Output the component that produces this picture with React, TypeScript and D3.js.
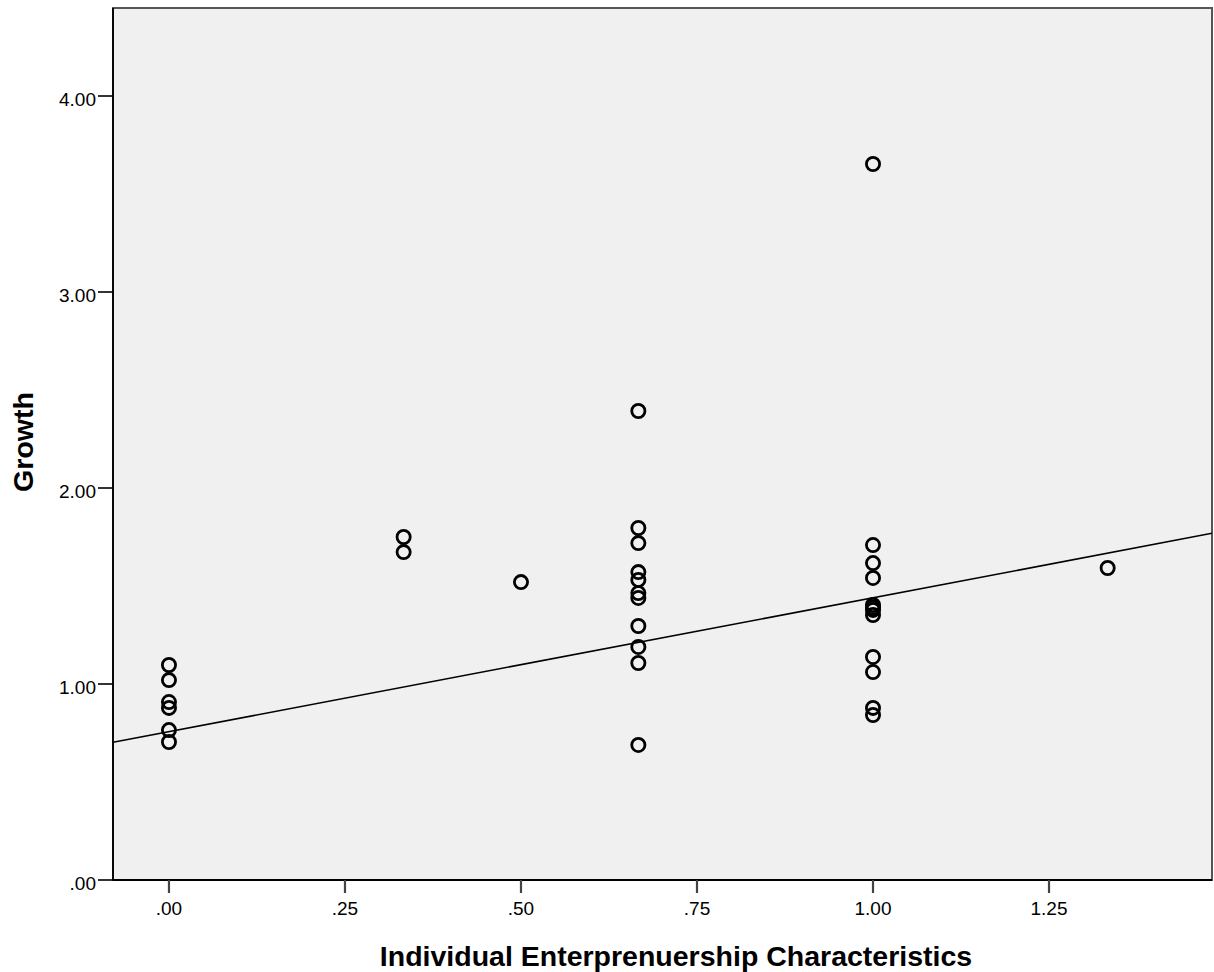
import React from "react";
import * as d3 from "d3";

const xTicks = [0, 0.25, 0.5, 0.75, 1.0, 1.25];
const xTickLabels = [".00", ".25", ".50", ".75", "1.00", "1.25"];
const yTicks = [0, 1, 2, 3, 4];
const yTickLabels = [".00", "1.00", "2.00", "3.00", "4.00"];

const xValues = [
  0, 0, 0, 0, 0, 0,
  0.3333, 0.3333,
  0.5,
  0.6667, 0.6667, 0.6667, 0.6667, 0.6667, 0.6667, 0.6667, 0.6667, 0.6667, 0.6667, 0.6667,
  1, 1, 1, 1, 1, 1, 1, 1, 1, 1, 1, 1,
  1.3333,
];
const yValues = [
  1.097, 1.02, 0.908, 0.878, 0.765, 0.704,
  1.75, 1.673,
  1.52,
  2.393, 1.796, 1.719, 1.571, 1.531, 1.464, 1.439, 1.296, 1.189, 1.107, 0.689,
  3.653, 1.709, 1.617, 1.541, 1.403, 1.39, 1.378, 1.352, 1.138, 1.061, 0.878, 0.842,
  1.592,
];

// Fit line shown in the reference (total-sample fit line)
const fitIntercept = 0.757;
const fitSlope = 0.683;

const W = 1214, H = 972;
const left = 113, right = 1212, top = 8, bottom = 880;

export default function App() {
  const x = d3.scaleLinear().domain([-0.0795, 1.4815]).range([left, right]);
  const y = d3.scaleLinear().domain([0, 4.449]).range([bottom, top]);

  const [d0, d1] = x.domain();
  const line = d3.line<number>().x((d) => x(d)).y((d) => y(fitIntercept + fitSlope * d));

  const font = "'Liberation Sans', Arial, sans-serif";

  return (
    <svg width={W} height={H} style={{ position: "absolute", left: 0, top: 0, background: "#fff" }}>
      <defs>
        <clipPath id="plotclip">
          <rect x={left} y={top} width={right - left} height={bottom - top} />
        </clipPath>
      </defs>
      <rect x={left} y={top} width={right - left} height={bottom - top} fill="#f0f0f0" stroke="#555" strokeWidth={2} />
      <path d={line([d0, d1]) ?? ""} stroke="#000" strokeWidth={1.6} fill="none" clipPath="url(#plotclip)" />
      {xValues.map((xv, i) => (
        <circle key={i} cx={x(xv)} cy={y(yValues[i])} r={6.6} fill="none" stroke="#000" strokeWidth={2.8} />
      ))}
      <line x1={left} x2={left} y1={top} y2={bottom} stroke="#000" strokeWidth={1.8} />
      <line x1={left} x2={right} y1={bottom} y2={bottom} stroke="#000" strokeWidth={1.8} />
      {yTicks.map((t, i) => (
        <g key={"y" + i}>
          <line x1={left - 15} x2={left} y1={y(t)} y2={y(t)} stroke="#000" strokeWidth={1.6} />
          <text x={left - 17} y={y(t) + 10} textAnchor="end" fontFamily={font} fontSize={19} fill="#000">
            {yTickLabels[i]}
          </text>
        </g>
      ))}
      {xTicks.map((t, i) => (
        <g key={"x" + i}>
          <line x1={x(t)} x2={x(t)} y1={bottom} y2={bottom + 13} stroke="#444" strokeWidth={2.2} />
          <text x={x(t)} y={bottom + 35} textAnchor="middle" fontFamily={font} fontSize={19} fill="#000">
            {xTickLabels[i]}
          </text>
        </g>
      ))}
      <text x={676} y={966} textAnchor="middle" fontFamily={font} fontSize={28.5} fontWeight="bold" fill="#000">
        Individual Enterprenuership Characteristics
      </text>
      <text transform={`translate(33, 442) rotate(-90)`} textAnchor="middle" fontFamily={font} fontSize={28.5} fontWeight="bold" fill="#000">
        Growth
      </text>
    </svg>
  );
}
